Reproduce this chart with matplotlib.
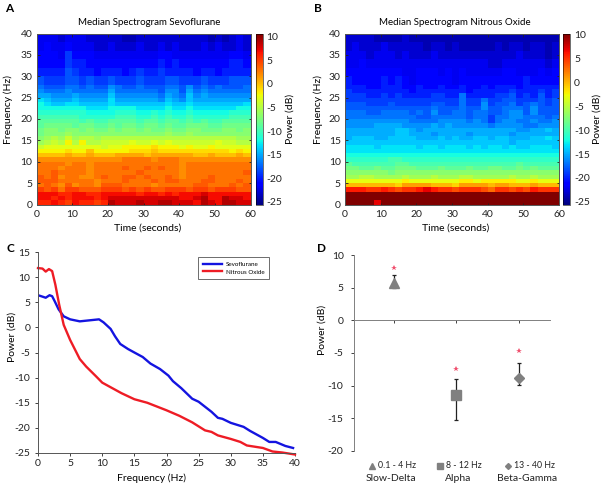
# median spectrograms and band power, sevoflurane vs nitrous oxide

import numpy as np
import matplotlib
matplotlib.use("Agg")
from matplotlib import pyplot as plt
from matplotlib.lines import Line2D

plt.rcParams['font.family'] = ['Lato', 'DejaVu Sans']
plt.rcParams['font.size'] = 7.5
plt.rcParams['axes.linewidth'] = 0.7
plt.rcParams['axes.unicode_minus'] = False

W, H = 604, 488

# spectrogram grid: 30 time columns, rows top (40 Hz) to bottom (0 Hz)
time_edges = list(range(0, 62, 2))
freq_edges = [40, 38, 36, 34, 32, 30, 28] + list(range(27, -1, -1))

sevo = [
    [-22,-22,-22,-23,-22,-22,-22,-23,-23,-23,-23,-23,-24,-24,-23,-23,-23,-23,-23,-23,-23,-23,-23,-23,-24,-23,-24,-23,-22,-23],
    [-22,-21,-22,-22,-21,-22,-22,-22,-23,-23,-22,-23,-23,-23,-22,-23,-23,-22,-23,-22,-23,-23,-23,-22,-23,-22,-23,-23,-22,-23],
    [-21,-21,-21,-22,-19,-21,-21,-21,-22,-22,-22,-22,-22,-22,-22,-22,-22,-21,-21,-22,-22,-22,-22,-22,-22,-22,-22,-21,-21,-22],
    [-21,-21,-21,-21,-19,-20,-20,-21,-21,-21,-21,-21,-21,-21,-21,-21,-21,-20,-21,-20,-21,-21,-21,-21,-21,-21,-21,-20,-20,-21],
    [-20,-20,-20,-20,-18,-19,-20,-20,-21,-20,-20,-20,-21,-20,-19,-20,-20,-19,-20,-20,-20,-20,-21,-20,-20,-21,-20,-20,-20,-20],
    [-18,-19,-19,-19,-18,-18,-19,-18,-19,-19,-18,-19,-19,-19,-18,-19,-19,-19,-18,-18,-19,-19,-19,-18,-19,-19,-19,-18,-18,-18],
    [-17,-18,-18,-18,-17,-17,-18,-17,-18,-18,-16,-17,-18,-18,-17,-18,-18,-18,-17,-17,-18,-16,-18,-17,-18,-17,-18,-18,-18,-17],
    [-16,-17,-17,-17,-16,-17,-17,-17,-17,-17,-15,-17,-17,-17,-17,-17,-17,-18,-16,-16,-18,-15,-17,-16,-17,-17,-17,-17,-17,-17],
    [-15,-15,-16,-16,-16,-15,-16,-16,-16,-16,-14,-16,-16,-16,-16,-16,-16,-17,-15,-16,-17,-14,-16,-15,-16,-16,-16,-16,-16,-16],
    [-13,-14,-15,-15,-15,-14,-15,-15,-15,-15,-13,-15,-15,-15,-15,-15,-15,-16,-14,-15,-16,-14,-15,-15,-15,-15,-15,-15,-15,-15],
    [-12,-13,-14,-14,-13,-13,-14,-14,-14,-14,-13,-14,-14,-14,-14,-14,-14,-14,-13,-14,-14,-13,-14,-14,-14,-14,-14,-14,-14,-13],
    [-12,-12,-12,-12,-12,-12,-12,-13,-13,-13,-12,-12,-12,-12,-13,-13,-13,-13,-12,-13,-13,-12,-13,-13,-13,-13,-13,-13,-12,-12],
    [-11,-11,-11,-11,-11,-11,-11,-12,-12,-12,-12,-11,-11,-11,-12,-12,-11,-12,-11,-12,-12,-11,-12,-12,-12,-12,-12,-11,-11,-11],
    [-10,-10,-10,-10,-10,-10,-11,-11,-11,-11,-11,-10,-10,-10,-11,-11,-10,-11,-10,-11,-11,-10,-11,-11,-11,-11,-11,-10,-10,-10],
    [-9,-9,-9,-9,-9,-9,-10,-9,-10,-10,-9,-9,-9,-9,-10,-9,-9,-10,-9,-9,-10,-9,-10,-9,-10,-10,-9,-9,-9,-9],
    [-9,-8,-8,-8,-8,-9,-8,-8,-9,-9,-8,-9,-8,-8,-9,-8,-8,-9,-8,-9,-9,-8,-8,-8,-9,-9,-8,-8,-8,-8],
    [-8,-7,-7,-8,-7,-7,-8,-7,-8,-8,-7,-8,-7,-7,-8,-7,-8,-8,-7,-8,-8,-7,-7,-8,-8,-8,-7,-7,-8,-7],
    [-8,-7,-7,-7,-6,-7,-7,-7,-7,-7,-7,-7,-7,-7,-7,-7,-7,-7,-6,-7,-7,-6,-7,-7,-7,-7,-7,-7,-7,-7],
    [-7,-6,-5,-6,-4,-6,-5,-5,-6,-5,-5,-5,-5,-5,-5,-5,-5,-5,-5,-5,-5,-5,-5,-5,-5,-5,-5,-5,-6,-6],
    [-6,-5,-4,-5,-2,-5,-2,-5,-5,-4,-4,-4,-4,-3,-4,-4,-3,-4,-3,-4,-4,-4,-4,-4,-4,-3,-4,-4,-5,-5],
    [-4,-3,-3,-3,-3,-3,-3,-3,-3,-4,-3,-3,-2,-2,-2,-2,-1,-2,-2,-2,-3,-2,-3,-3,-2,-3,-3,-3,-3,-3],
    [-2,-2,-2,-2,-1,-2,-2,0,-2,-2,-2,-2,-2,-1,-1,-1,0,-1,-1,-1,-1,-1,-1,-1,-1,-1,-1,-2,-1,-2],
    [0,0,0,0,1,0,0,1,0,0,0,1,1,1,1,0,1,1,1,1,1,1,0,0,1,0,0,0,1,0],
    [2,2,2,2,2,2,2,2,2,2,2,2,3,3,3,3,2,3,3,3,2,2,2,2,2,2,2,2,2,2],
    [3,3,3,3,2,3,3,2,3,3,3,3,3,3,3,3,3,3,3,3,2,3,3,3,3,3,3,3,3,3],
    [3,3,3,2,3,3,3,2,3,3,3,3,4,3,3,4,3,4,3,3,2,3,3,3,3,3,3,3,3,3],
    [3,3,4,3,3,3,3,2,3,3,3,3,3,3,4,3,3,3,3,3,2,3,3,3,3,3,3,3,3,4],
    [4,3,4,2,3,3,2,2,3,4,3,3,4,4,3,4,3,3,4,3,2,3,3,3,4,3,3,3,3,3],
    [4,4,4,3,3,3,3,3,2,3,3,3,4,3,3,3,4,3,4,4,3,3,3,4,4,3,3,3,4,3],
    [3,4,3,2,4,2,3,3,2,4,4,4,3,3,3,3,2,3,3,3,3,3,4,4,3,3,3,4,3,4],
    [5,4,5,3,5,5,4,4,4,5,5,5,4,5,4,5,4,4,5,5,5,4,5,5,4,5,5,5,4,4],
    [7,7,7,6,6,7,7,6,6,7,7,7,7,7,6,7,7,6,7,6,7,7,7,8,7,7,7,7,7,7],
    [7,7,6,7,6,7,7,7,6,7,8,8,8,8,8,8,8,8,8,8,7,7,8,9,7,7,9,8,8,7],
    [6,6,7,6,5,7,6,6,5,6,9,8,8,8,9,8,8,9,9,8,8,8,7,9,8,7,9,9,8,8],
]

nitrous = [
    [-23,-23,-23,-23,-24,-24,-24,-24,-23,-24,-24,-24,-24,-24,-24,-24,-24,-24,-24,-24,-24,-24,-24,-24,-24,-24,-24,-24,-24,-24],
    [-23,-22,-23,-23,-23,-22,-23,-23,-23,-23,-23,-24,-23,-23,-24,-23,-24,-24,-24,-24,-24,-23,-24,-23,-23,-24,-23,-23,-24,-23],
    [-22,-22,-22,-23,-22,-22,-22,-23,-22,-23,-23,-23,-22,-23,-23,-23,-23,-23,-23,-23,-23,-23,-23,-23,-22,-23,-23,-23,-24,-23],
    [-22,-22,-21,-22,-22,-22,-22,-22,-22,-22,-22,-22,-22,-22,-22,-22,-22,-22,-22,-22,-23,-23,-22,-22,-22,-22,-22,-22,-23,-22],
    [-21,-21,-21,-21,-21,-21,-21,-21,-22,-22,-21,-21,-21,-22,-21,-22,-21,-22,-22,-22,-22,-22,-21,-21,-22,-22,-22,-21,-22,-21],
    [-20,-21,-21,-21,-21,-20,-21,-20,-21,-22,-21,-21,-21,-21,-21,-22,-21,-21,-21,-21,-21,-21,-21,-21,-21,-20,-21,-21,-21,-21],
    [-20,-20,-20,-21,-21,-20,-20,-20,-21,-21,-20,-21,-21,-20,-21,-21,-20,-21,-21,-20,-21,-20,-20,-20,-21,-20,-20,-20,-20,-20],
    [-19,-20,-20,-20,-20,-20,-20,-20,-20,-21,-20,-20,-20,-20,-20,-20,-20,-21,-20,-20,-20,-20,-20,-19,-20,-20,-20,-19,-20,-19],
    [-19,-19,-19,-20,-20,-19,-20,-19,-20,-20,-20,-20,-19,-19,-20,-20,-17,-20,-20,-20,-20,-19,-19,-18,-20,-19,-20,-18,-20,-19],
    [-19,-19,-19,-19,-19,-19,-19,-19,-19,-19,-19,-19,-19,-19,-19,-19,-17,-19,-19,-17,-19,-19,-18,-18,-19,-19,-19,-18,-19,-18],
    [-18,-18,-18,-19,-19,-19,-18,-19,-19,-19,-19,-19,-18,-18,-19,-19,-17,-19,-19,-16,-19,-18,-18,-17,-19,-18,-17,-18,-19,-18],
    [-18,-18,-18,-18,-18,-18,-18,-18,-18,-18,-18,-18,-17,-18,-18,-18,-17,-18,-18,-16,-18,-18,-17,-17,-17,-18,-16,-18,-18,-18],
    [-17,-17,-17,-18,-18,-17,-17,-17,-17,-18,-17,-18,-16,-18,-18,-17,-17,-18,-17,-17,-18,-18,-17,-16,-16,-18,-16,-18,-18,-18],
    [-17,-17,-17,-17,-17,-17,-17,-17,-17,-17,-18,-18,-17,-17,-17,-17,-17,-18,-17,-17,-19,-17,-17,-16,-16,-17,-17,-17,-18,-17],
    [-16,-16,-16,-16,-16,-16,-16,-16,-16,-17,-17,-17,-17,-16,-16,-16,-16,-17,-16,-17,-19,-17,-16,-16,-17,-17,-16,-17,-17,-16],
    [-16,-16,-16,-16,-15,-15,-15,-15,-16,-16,-16,-16,-15,-16,-15,-16,-16,-16,-16,-16,-17,-16,-16,-16,-16,-17,-17,-16,-16,-16],
    [-15,-15,-15,-15,-15,-15,-15,-14,-14,-15,-16,-15,-15,-15,-15,-15,-15,-15,-15,-15,-15,-15,-15,-15,-16,-16,-15,-15,-14,-15],
    [-15,-15,-15,-15,-15,-15,-15,-14,-14,-15,-15,-15,-16,-15,-15,-15,-15,-16,-15,-15,-15,-15,-15,-16,-15,-15,-15,-15,-15,-15],
    [-15,-14,-14,-14,-15,-15,-14,-14,-14,-14,-15,-15,-15,-14,-15,-14,-15,-15,-14,-14,-15,-14,-14,-15,-15,-15,-14,-14,-13,-14],
    [-14,-14,-14,-14,-14,-14,-14,-14,-14,-14,-14,-14,-14,-14,-14,-14,-14,-14,-14,-14,-14,-14,-14,-15,-14,-14,-14,-14,-14,-14],
    [-13,-13,-13,-13,-14,-13,-13,-13,-13,-13,-14,-13,-13,-14,-13,-13,-13,-14,-13,-14,-13,-13,-14,-13,-14,-14,-13,-13,-13,-14],
    [-13,-13,-13,-13,-13,-13,-13,-13,-13,-13,-13,-13,-13,-13,-13,-13,-13,-13,-13,-13,-13,-13,-13,-13,-13,-13,-13,-13,-13,-13],
    [-12,-12,-12,-12,-12,-12,-12,-12,-12,-12,-12,-12,-12,-12,-12,-12,-12,-12,-12,-12,-12,-12,-12,-12,-12,-12,-12,-12,-12,-12],
    [-11,-11,-11,-11,-11,-11,-10,-10,-11,-11,-11,-11,-11,-11,-11,-11,-11,-11,-11,-11,-11,-11,-11,-11,-11,-11,-11,-11,-11,-11],
    [-9,-10,-10,-10,-10,-10,-10,-9,-9,-10,-10,-10,-10,-10,-10,-10,-10,-10,-10,-10,-10,-10,-10,-10,-9,-10,-10,-10,-10,-10],
    [-8,-8,-9,-9,-8,-9,-9,-8,-8,-8,-9,-9,-9,-8,-9,-9,-9,-8,-9,-9,-8,-8,-9,-9,-8,-9,-8,-9,-9,-9],
    [-7,-7,-7,-7,-7,-7,-8,-7,-7,-7,-7,-7,-7,-7,-7,-7,-7,-7,-7,-7,-7,-7,-7,-7,-7,-7,-7,-7,-7,-7],
    [-6,-6,-5,-5,-6,-6,-6,-6,-5,-6,-6,-6,-5,-6,-6,-6,-5,-5,-6,-6,-6,-6,-6,-5,-6,-6,-5,-6,-6,-6],
    [-3,-3,-3,-3,-3,-3,-3,-3,-2,-3,-3,-3,-3,-3,-3,-3,-2,-2,-3,-2,-2,-2,-2,-2,-3,-3,-2,-3,-3,-3],
    [0,0,0,0,0,0,0,-1,1,1,1,1,0,0,0,-1,1,1,1,1,0,1,1,0,0,0,1,0,0,0],
    [6,6,6,5,5,6,5,4,5,5,6,7,6,5,5,4,5,5,5,4,3,5,5,4,5,4,6,5,5,5],
    [11,11,11,11,11,11,11,11,11,11,11,11,11,11,11,11,11,11,11,11,11,11,11,11,11,11,11,11,11,11],
    [11,11,11,11,11,11,11,11,11,11,11,11,11,11,11,11,11,11,11,11,11,11,11,11,11,11,11,11,11,11],
    [11,11,11,11,7,11,11,11,11,11,11,11,11,11,11,11,11,11,11,11,11,11,11,11,11,11,11,11,11,11],
]

cbar_ticks = [10, 5, 0, -5, -10, -15, -20, -25]

# power spectra
sevo_freq = [0, 0.5, 1.2, 1.8, 2.2, 2.6, 3.2, 4, 5, 6.5, 8, 9.5, 10.2, 11.3, 12, 12.8, 14, 15, 16.3, 17.5, 19,
             20.3, 21, 22.3, 24, 25, 27, 28, 28.7, 30, 32, 33, 35, 36, 37, 38.5, 39.7]
sevo_power = [6.4, 6.2, 5.9, 6.4, 6.2, 5.2, 3.6, 2.2, 1.6, 1.2, 1.4, 1.6, 1.0, -0.3, -1.8, -3.3, -4.3, -5.0, -5.9, -7.2, -8.3,
              -9.6, -10.7, -12.1, -14.2, -14.8, -16.8, -18.0, -18.2, -19.0, -19.8, -20.6, -22.0, -22.8, -22.8, -23.6, -24.0]
nitrous_freq = [0, 0.7, 1.2, 1.7, 2.2, 2.7, 3.3, 4, 5, 6.5, 7.5, 9, 10, 12, 13, 15, 17, 18, 20, 22, 24, 26, 27, 28,
                30, 31.5, 32.5, 34, 35, 36.5, 38, 40]
nitrous_power = [11.8, 11.7, 11.1, 11.6, 11.2, 8.5, 4.5, 0.5, -2.5, -6.3, -7.8, -9.7, -11.0, -12.4, -13.1, -14.3, -15.0, -15.5, -16.5, -17.6, -18.9, -20.5, -20.8, -21.5,
                 -22.2, -22.8, -23.5, -23.8, -24.0, -24.7, -24.9, -25.3]

# band differences
bands = ['Slow-Delta', 'Alpha', 'Beta-Gamma']
band_ranges = ['0.1 - 4 Hz', '8 - 12 Hz', '13 - 40 Hz']
band_pos = [1, 2, 3]
band_mid = [5.7, -11.4, -8.8]
band_low = [5.0, -15.2, -9.9]
band_high = [6.9, -9.0, -6.5]
star_y = [8.0, -7.4, -4.7]
band_markers = ['^', 's', 'D']
band_sizes = [7.5, 7, 5]


def box(left, top, right, bottom):
    return [left / W, 1 - bottom / H, (right - left) / W, (bottom - top) / H]


def style(ax):
    for s in ['top', 'right', 'bottom', 'left']:
        ax.spines[s].set_color('#555555')
    ax.tick_params(colors='#222222', length=2.5, width=0.6, pad=3, labelsize=7.5)


def spectrogram(ax_box, cb_box, data, title, vmin, vmax, ylabel_px, title_x, xlabel_x):
    ax = fig.add_axes(box(*ax_box))
    mesh = ax.pcolormesh(time_edges, freq_edges, np.array(data), cmap='jet', vmin=vmin, vmax=vmax)
    ax.set_xlim(0, 60)
    ax.set_ylim(0, 40)
    ax.set_xticks(range(0, 70, 10))
    ax.set_yticks(range(0, 45, 5))
    ax.set_title(title, fontsize=7, pad=6, x=title_x)
    style(ax)
    ax.tick_params(direction='in', top=True, right=True, length=1.8)
    ax.tick_params(axis='x', pad=4)
    ax.set_xlabel('Time (seconds)', fontsize=7.5, va='center')
    ax.xaxis.set_label_coords(xlabel_x, -(228 - 204.5) / 171)
    ax.set_ylabel('Frequency (Hz)', fontsize=7.5, va='center')
    ax.yaxis.set_label_coords((ylabel_px - ax_box[0]) / 214, 0.553)
    cax = fig.add_axes(box(*cb_box))
    cb = fig.colorbar(mesh, cax=cax, ticks=cbar_ticks)
    cb.set_label('Power (dB)', fontsize=7.5, labelpad=2)
    cb.ax.tick_params(length=0, pad=3, labelsize=7.5, colors='#222222')
    cb.outline.set_linewidth(0.4)
    return ax


fig = plt.figure(figsize=(W / 100, H / 100), dpi=100)

spectrogram((36.5, 33.5, 250.5, 204.5), (256, 33.5, 262.5, 204.5), sevo, 'Median Spectrogram Sevoflurane',
            -25.6, 10.7, 8, 0.526, 0.52)
spectrogram((345, 33.5, 559, 204.5), (563, 33.5, 570, 204.5), nitrous, 'Median Spectrogram Nitrous Oxide',
            -25.6, 10.3, 318, 0.514, 0.519)

# panel C
ax3 = fig.add_axes(box(38, 252, 295, 453))
ax3.plot(sevo_freq, sevo_power, color='#1414e0', lw=1.7, label='Sevoflurane')
ax3.plot(nitrous_freq, nitrous_power, color='#ee1c25', lw=1.7, label='Nitrous Oxide', clip_on=False)
ax3.set_xlim(0, 40)
ax3.set_ylim(-25, 15)
ax3.set_xticks(range(0, 45, 5))
ax3.set_yticks(range(-25, 20, 5))
ax3.spines['top'].set_visible(False)
ax3.spines['right'].set_visible(False)
style(ax3)
ax3.tick_params(axis='x', pad=2)
ax3.set_xlabel('Frequency (Hz)', fontsize=7.5, va='center')
ax3.xaxis.set_label_coords(0.442, -(478 - 453) / 201)
ax3.set_ylabel('Power (dB)', fontsize=7.5, va='center')
ax3.yaxis.set_label_coords((12 - 38) / 257, 0.577)
leg = ax3.legend(loc='upper left', bbox_to_anchor=((198 - 38) / 257, 1 - (257 - 252) / 201), fontsize=4.5,
                 frameon=True, fancybox=False, edgecolor='#555555', framealpha=1,
                 handlelength=3.1, borderpad=0.75, labelspacing=0.35, handletextpad=0.6, borderaxespad=0)
leg.get_frame().set_linewidth(0.6)

# panel D
ax4 = fig.add_axes(box(354, 255, 550, 451))
ax4.errorbar(band_pos, band_mid,
             yerr=[np.array(band_mid) - np.array(band_low), np.array(band_high) - np.array(band_mid)],
             fmt='none', ecolor='#222222', elinewidth=0.9, capsize=1.6, capthick=0.9, zorder=2)
for x, y, m, s in zip(band_pos, band_mid, band_markers, band_sizes):
    ax4.plot([x], [y], marker=m, ms=s, color='#808080', ls='none', zorder=3)
ax4.plot(band_pos, star_y, ls='none', marker='*', ms=4, color='#f0506e', mew=0)
ax4.set_xlim(0.36, 3.5)
ax4.set_ylim(-20, 10)
ax4.set_xticks(band_pos)
ax4.set_xticklabels([])
ax4.set_yticks(range(-20, 15, 5))
ax4.spines['top'].set_visible(False)
ax4.spines['right'].set_visible(False)
ax4.spines['bottom'].set_position(('data', 0))
style(ax4)
ax4.tick_params(axis='y', pad=5)
ax4.spines['bottom'].set_color('#808080')
ax4.spines['left'].set_color('#808080')
ax4.set_ylabel('Power (dB)', fontsize=7.5, va='center')
ax4.yaxis.set_label_coords((322 - 354) / 196, 0.62)

# band captions under panel D
for c, r, m, s in zip([372, 440, 508], band_ranges, band_markers, [4, 4, 3]):
    fig.add_artist(Line2D([c / W], [1 - 466 / H], marker=m, ms=s, color='#808080', ls='none',
                          transform=fig.transFigure))
    fig.text((c + 6) / W, 1 - 466 / H, r, fontsize=6.3, va='center', ha='left', color='#222222')
for x, b in zip([391, 458.5, 527.5], bands):
    fig.text(x / W, 1 - 478.5 / H, b, fontsize=7.5, va='center', ha='center', color='#222222')

for letter, x, y in [('A', 9, 9), ('B', 318, 9), ('C', 10, 248), ('D', 321, 248)]:
    fig.text(x / W, 1 - y / H, letter, fontsize=8.5, fontweight='bold', va='center', ha='center')

fig.savefig('out.png', dpi=100)
